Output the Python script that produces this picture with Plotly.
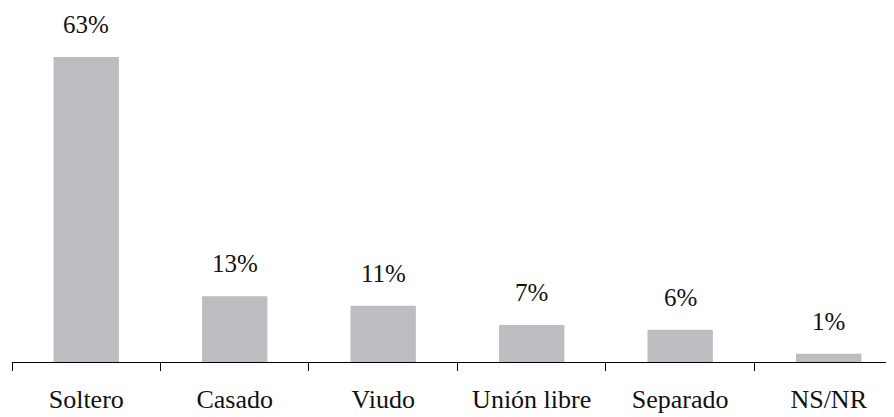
import plotly.graph_objects as go

categories = ["Soltero", "Casado", "Viudo", "Unión libre", "Separado", "NS/NR"]
values = [63, 13, 11, 7, 6, 1]
labels = ["63%", "13%", "11%", "7%", "6%", "1%"]

FONT = "'Liberation Serif', 'Times New Roman', Times, serif"
BAR_COLOR = "#bcbdc0"
Y0 = -0.73

fig = go.Figure()
fig.add_trace(go.Bar(
    x=categories,
    y=[v - Y0 for v in values],
    base=Y0,
    marker=dict(color=BAR_COLOR, line=dict(width=0)),
    width=0.44,
    hoverinfo="skip",
))

for c, v, t in zip(categories, values, labels):
    fig.add_annotation(x=c, y=v, text=t, showarrow=False, yanchor="bottom",
                       yshift=17, font=dict(family=FONT, size=25, color="#111111"))

fig.update_layout(
    width=886, height=409,
    margin=dict(l=4, r=0, t=0, b=55),
    paper_bgcolor="white", plot_bgcolor="white",
    showlegend=False,
    bargap=0.56,
    font=dict(family=FONT, size=26, color="#111111"),
)
fig.update_xaxes(
    type="category", range=[-0.5, 5.44], automargin=False,
    showline=True, linecolor="black", linewidth=1,
    ticks="outside", tickson="boundaries", ticklen=8, tickcolor="black", tickwidth=1,
    ticklabelstandoff=14,
    showgrid=False, zeroline=False,
    tickfont=dict(family=FONT, size=26, color="#111111"),
)
fig.update_yaxes(range=[Y0, 73.25], visible=False, showgrid=False, zeroline=False, automargin=False)

fig.write_html("out.html")
